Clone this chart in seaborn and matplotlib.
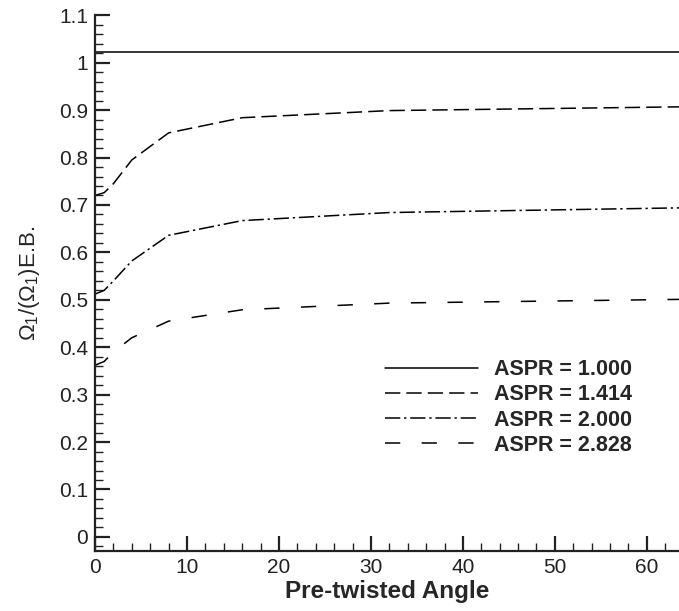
import numpy as np
import pandas as pd
import matplotlib
matplotlib.use('Agg')
import matplotlib.pyplot as plt
from matplotlib.ticker import MultipleLocator, FuncFormatter
import seaborn as sns

# values
angle = [0, 1, 2, 4, 8, 16, 32, 64]
aspr_1000 = [1.023, 1.023, 1.023, 1.023, 1.023, 1.023, 1.023, 1.023]
aspr_1414 = [0.720, 0.726, 0.745, 0.795, 0.852, 0.884, 0.899, 0.907]
aspr_2000 = [0.512, 0.520, 0.540, 0.582, 0.636, 0.667, 0.684, 0.694]
aspr_2828 = [0.362, 0.370, 0.390, 0.420, 0.455, 0.479, 0.493, 0.501]
labels = ['ASPR = 1.000', 'ASPR = 1.414', 'ASPR = 2.000', 'ASPR = 2.828']

df = pd.DataFrame({
    'angle': angle * 4,
    'ratio': aspr_1000 + aspr_1414 + aspr_2000 + aspr_2828,
    'ASPR': [l for l in labels for _ in angle],
})

sns.set_style('ticks')
plt.rcParams['font.family'] = ['Liberation Sans', 'DejaVu Sans']
plt.rcParams['mathtext.fontset'] = 'custom'
plt.rcParams['mathtext.rm'] = 'Liberation Sans'
plt.rcParams['mathtext.it'] = 'Liberation Sans'

dash_map = {
    labels[0]: '',
    labels[1]: (10, 4),
    labels[2]: (10, 2.5, 1.5, 2.5),
    labels[3]: (10, 14),
}

fig = plt.figure(figsize=(6.79, 6.11), dpi=100)
ax = fig.add_axes([0.14, 0.098, 0.86, 0.877])
sns.lineplot(data=df, x='angle', y='ratio', style='ASPR', dashes=dash_map,
             color='black', linewidth=1.1, ax=ax)

ax.set_xlim(0, 63.5)
ax.set_ylim(-0.03, 1.1)
ax.xaxis.set_major_locator(MultipleLocator(10))
ax.xaxis.set_minor_locator(MultipleLocator(2))
ax.yaxis.set_major_locator(MultipleLocator(0.1))
ax.yaxis.set_minor_locator(MultipleLocator(0.02))
ax.yaxis.set_major_formatter(FuncFormatter(lambda v, p: '%g' % round(v, 2)))

ax.tick_params(which='both', direction='in', labelsize=15, colors='#222222')
ax.tick_params(which='major', length=11, width=1.6, pad=5)
ax.tick_params(which='minor', length=6, width=1.0)
sns.despine(ax=ax)
for s in ['left', 'bottom']:
    ax.spines[s].set_linewidth(1.6)
    ax.spines[s].set_color('#222222')

ax.set_xlabel('Pre-twisted Angle', fontsize=17.5, fontweight='bold', labelpad=2)
ax.set_ylabel(r'$\Omega_1$/($\Omega_1$)E.B.', fontsize=16, labelpad=12)

leg = ax.legend(loc='center left', bbox_to_anchor=(0.497, 0.268), frameon=False,
                handlelength=4.3, handletextpad=0.75, labelspacing=0.2,
                borderpad=0, borderaxespad=0, prop={'weight': 'bold', 'size': 15.5})
leg.set_title(None)

fig.savefig('out.png', dpi=100)
